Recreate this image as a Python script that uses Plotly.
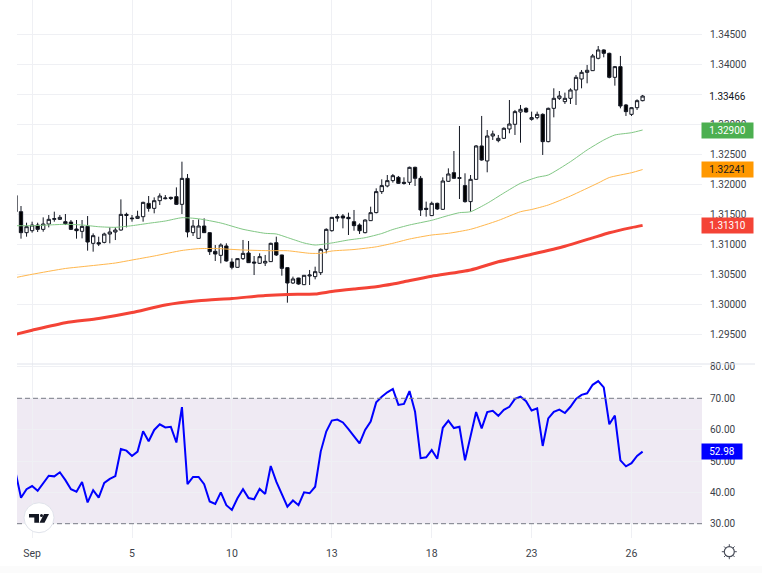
import plotly.graph_objects as go

# Chart size in pixels
W = 762
H = 573

# Candles, bar -1 to bar 112
bars = list(range(-1, 113))
opens = [1.31808, 1.31539, 1.31189, 1.31222, 1.31316, 1.31244, 1.31333, 1.31411, 1.31411, 1.31372,
         1.31366, 1.31250, 1.31211, 1.31294, 1.31011, 1.31022, 1.31027, 1.31166, 1.31200, 1.31233,
         1.31494, 1.31433, 1.31427, 1.31455, 1.31677, 1.31594, 1.31722, 1.31755, 1.31777, 1.31789,
         1.31661, 1.32094, 1.31189, 1.31094, 1.31300, 1.31189, 1.30878, 1.30811, 1.30967, 1.30700,
         1.30611, 1.30756, 1.30850, 1.30700, 1.30678, 1.30683, 1.30706, 1.31022, 1.30817, 1.30606,
         1.30350, 1.30433, 1.30322, 1.30467, 1.30456, 1.30522, 1.30911, 1.31222, 1.31456, 1.31467,
         1.31444, 1.31372, 1.31317, 1.31189, 1.31389, 1.31523, 1.31873, 1.31967, 1.32056, 1.32111,
         1.32028, 1.32028, 1.32278, 1.32095, 1.31595, 1.31473, 1.31678, 1.31578, 1.32045, 1.32189,
         1.32106, 1.31973, 1.31706, 1.32078, 1.32634, 1.32384, 1.32800, 1.32723, 1.32761, 1.32917,
         1.32995, 1.33200, 1.33261, 1.33078, 1.33106, 1.33161, 1.32706, 1.33261, 1.33428, 1.33373,
         1.33428, 1.33567, 1.33750, 1.33861, 1.33889, 1.34095, 1.34234, 1.34178, 1.33778, 1.33956,
         1.33317, 1.33161, 1.33272, 1.33389]
highs = [1.31817, 1.31633, 1.31355, 1.31372, 1.31355, 1.31444, 1.31483, 1.31539, 1.31483, 1.31500,
         1.31400, 1.31400, 1.31400, 1.31466, 1.31177, 1.31122, 1.31189, 1.31277, 1.31277, 1.31744,
         1.31522, 1.31483, 1.31555, 1.31705, 1.31800, 1.31777, 1.31844, 1.31816, 1.31789, 1.31944,
         1.32372, 1.32166, 1.31400, 1.31411, 1.31428, 1.31195, 1.30983, 1.31011, 1.31011, 1.30761,
         1.30761, 1.31067, 1.31050, 1.30800, 1.30844, 1.30817, 1.31022, 1.31122, 1.30822, 1.30610,
         1.30456, 1.30436, 1.30482, 1.30567, 1.30622, 1.30928, 1.31261, 1.31450, 1.31500, 1.31500,
         1.31522, 1.31567, 1.31344, 1.31411, 1.31622, 1.31928, 1.32078, 1.32150, 1.32167, 1.32134,
         1.32111, 1.32289, 1.32289, 1.32134, 1.31706, 1.31706, 1.31689, 1.32111, 1.32261, 1.32550,
         1.32967, 1.32178, 1.32150, 1.32650, 1.33134, 1.32900, 1.32889, 1.32817, 1.32945, 1.33400,
         1.33234, 1.33317, 1.33278, 1.33206, 1.33206, 1.33178, 1.33273, 1.33595, 1.33550, 1.33523,
         1.33595, 1.33817, 1.33900, 1.33984, 1.34167, 1.34300, 1.34245, 1.34189, 1.33967, 1.34134,
         1.33334, 1.33278, 1.33411, 1.33484]
lows = [1.31517, 1.31089, 1.31122, 1.31189, 1.31200, 1.31205, 1.31277, 1.31372, 1.31400, 1.31316,
        1.31233, 1.31089, 1.31094, 1.30889, 1.30872, 1.30966, 1.31011, 1.31011, 1.31066, 1.31222,
        1.31277, 1.31372, 1.31420, 1.31372, 1.31539, 1.31511, 1.31650, 1.31744, 1.31733, 1.31650,
        1.31500, 1.31111, 1.31133, 1.31089, 1.31185, 1.30817, 1.30717, 1.30678, 1.30706, 1.30578,
        1.30606, 1.30733, 1.30685, 1.30483, 1.30667, 1.30633, 1.30700, 1.30800, 1.30472, 1.30022,
        1.30333, 1.30322, 1.30317, 1.30317, 1.30411, 1.30483, 1.30844, 1.31206, 1.31372, 1.31261,
        1.31150, 1.31222, 1.31167, 1.31178, 1.31385, 1.31511, 1.31834, 1.31945, 1.32023, 1.32000,
        1.31989, 1.31984, 1.31967, 1.31467, 1.31456, 1.31467, 1.31567, 1.31567, 1.32034, 1.32089,
        1.31750, 1.31689, 1.31539, 1.32067, 1.32389, 1.32195, 1.32734, 1.32695, 1.32750, 1.32845,
        1.32817, 1.32689, 1.33189, 1.33056, 1.33078, 1.32484, 1.32695, 1.33111, 1.33400, 1.33334,
        1.33334, 1.33317, 1.33595, 1.33678, 1.33885, 1.34078, 1.34111, 1.33761, 1.33639, 1.33261,
        1.33134, 1.33134, 1.33234, 1.33378]
closes = [1.31538, 1.31189, 1.31289, 1.31316, 1.31244, 1.31333, 1.31411, 1.31422, 1.31444, 1.31339,
          1.31244, 1.31222, 1.31294, 1.31033, 1.31139, 1.31000, 1.31166, 1.31200, 1.31233, 1.31494,
          1.31477, 1.31422, 1.31461, 1.31694, 1.31594, 1.31722, 1.31800, 1.31766, 1.31761, 1.31661,
          1.32094, 1.31200, 1.31300, 1.31300, 1.31189, 1.30872, 1.30833, 1.30983, 1.30717, 1.30611,
          1.30756, 1.30844, 1.30689, 1.30683, 1.30789, 1.30711, 1.31011, 1.30817, 1.30594, 1.30350,
          1.30417, 1.30333, 1.30478, 1.30483, 1.30539, 1.30911, 1.31244, 1.31444, 1.31433, 1.31433,
          1.31422, 1.31306, 1.31222, 1.31400, 1.31522, 1.31873, 1.31973, 1.32056, 1.32139, 1.32011,
          1.32011, 1.32278, 1.32095, 1.31567, 1.31578, 1.31678, 1.31584, 1.32050, 1.32167, 1.32095,
          1.32095, 1.31706, 1.32078, 1.32634, 1.32400, 1.32800, 1.32834, 1.32761, 1.32928, 1.33000,
          1.33206, 1.33245, 1.33200, 1.33106, 1.33161, 1.32706, 1.33261, 1.33428, 1.33467, 1.33428,
          1.33567, 1.33778, 1.33861, 1.33895, 1.34134, 1.34234, 1.34178, 1.33778, 1.33956, 1.33300,
          1.33206, 1.33272, 1.33389, 1.33466]

# Moving averages, read at a few bars each
ma_fast_bars = [-1, 2, 5, 8, 11, 14, 17, 20, 23, 26, 29, 32, 36, 40, 44, 46, 48, 51, 53, 56, 59, 62,
                65, 67, 70, 74, 77, 79, 81, 84, 87, 90, 93, 95, 99, 102, 105, 107, 110, 112]
ma_fast = [1.31305, 1.31305, 1.31317, 1.31328, 1.31317, 1.31288, 1.31278, 1.31305, 1.31345, 1.31383,
           1.31438, 1.31420, 1.31350, 1.31245, 1.31178, 1.31167, 1.31108, 1.31017, 1.30983, 1.31017,
           1.31067, 1.31105, 1.31175, 1.31242, 1.31317, 1.31395, 1.31475, 1.31522, 1.31538, 1.31678,
           1.31850, 1.32012, 1.32112, 1.32150, 1.32372, 1.32567, 1.32733, 1.32817, 1.32855, 1.32900]
ma_mid_bars = [-1, 2, 8, 11, 17, 20, 24, 29, 32, 35, 40, 45, 48, 52, 54, 56, 60, 64, 67, 70, 74, 77,
               81, 86, 90, 92, 95, 99, 104, 106, 110, 112]
ma_mid = [1.30440, 1.30495, 1.30592, 1.30622, 1.30683, 1.30733, 1.30800, 1.30892, 1.30922, 1.30925,
          1.30900, 1.30888, 1.30888, 1.30845, 1.30845, 1.30883, 1.30908, 1.30953, 1.31012, 1.31083,
          1.31150, 1.31178, 1.31245, 1.31392, 1.31538, 1.31575, 1.31650, 1.31800, 1.32017, 1.32108,
          1.32188, 1.32241]
ma_slow_bars = [-1, 2, 8, 14, 20, 26, 32, 38, 44, 48, 53, 56, 60, 64, 67, 69, 74, 81, 86, 92, 98,
                103, 106, 110, 112]
ma_slow = [1.29495, 1.29562, 1.29688, 1.29758, 1.29858, 1.29983, 1.30053, 1.30092, 1.30142, 1.30160,
           1.30167, 1.30208, 1.30250, 1.30288, 1.30333, 1.30370, 1.30463, 1.30567, 1.30703, 1.30828,
           1.30962, 1.31103, 1.31187, 1.31273, 1.31310]

rsi = [46.6, 38.3, 41.0, 42.0, 40.5, 43.1, 45.3, 45.1, 46.4, 43.9,
       41.0, 40.2, 43.3, 36.8, 40.7, 38.3, 43.0, 44.3, 45.2, 53.8,
       53.3, 51.6, 53.0, 59.5, 56.3, 59.9, 61.7, 60.7, 60.9, 55.9,
       67.2, 42.6, 44.9, 44.9, 42.6, 37.1, 36.3, 40.0, 35.9, 34.4,
       38.1, 41.0, 38.2, 37.8, 41.1, 39.5, 48.4, 43.4, 39.1, 35.4,
       37.4, 35.9, 40.0, 39.7, 41.8, 53.0, 59.4, 62.9, 63.2, 62.3,
       60.2, 58.0, 55.6, 59.9, 62.6, 68.7, 70.5, 71.9, 73.0, 67.9,
       68.2, 72.3, 65.7, 50.9, 51.2, 53.5, 50.7, 60.6, 62.9, 60.5,
       60.9, 50.2, 57.8, 65.6, 60.4, 65.6, 66.0, 64.4, 66.3, 67.3,
       69.8, 70.5, 69.1, 66.1, 66.8, 54.8, 63.6, 65.7, 66.4, 65.3,
       67.3, 69.8, 71.1, 71.6, 74.3, 75.5, 73.5, 61.7, 64.5, 50.2,
       48.3, 49.3, 51.6, 52.98]

# Axis ticks
date_bars = [2, 20, 38, 56, 74, 92, 110]
date_labels = ["Sep", "5", "10", "13", "18", "23", "26"]
price_ticks = [1.295, 1.30, 1.305, 1.31, 1.315, 1.32, 1.325, 1.33, 1.335, 1.34, 1.345]
price_labels = ["1.29500", "1.30000", "1.30500", "1.31000", "1.31500", "1.32000", "1.32500",
                "1.33000", "", "1.34000", "1.34500"]
rsi_ticks = [30, 40, 50, 60, 70, 80]
rsi_labels = ["30.00", "40.00", "50.00", "60.00", "70.00", "80.00"]


def px_x(x):
    return x / W


def px_y(y):
    return 1 - y / H


def main():
    fig = go.Figure()

    # Candles
    fig.add_trace(go.Candlestick(
        x=bars, open=opens, high=highs, low=lows, close=closes,
        xaxis="x", yaxis="y", whiskerwidth=0, showlegend=False, hoverinfo="skip",
        increasing=dict(line=dict(color="#131722", width=1), fillcolor="#ffffff"),
        decreasing=dict(line=dict(color="#131722", width=1), fillcolor="#000000"),
    ))

    # Moving averages
    for xs, ys, color, width in [(ma_fast_bars, ma_fast, "#81c784", 1),
                                 (ma_mid_bars, ma_mid, "#ffb74d", 1),
                                 (ma_slow_bars, ma_slow, "#f44336", 3)]:
        fig.add_trace(go.Scatter(x=xs, y=ys, mode="lines", xaxis="x", yaxis="y", showlegend=False,
                                 hoverinfo="skip",
                                 line=dict(color=color, width=width, shape="spline", smoothing=0.6)))

    # RSI
    fig.add_trace(go.Scatter(x=bars, y=rsi, mode="lines", xaxis="x2", yaxis="y2", showlegend=False,
                             hoverinfo="skip", line=dict(color="#0000ff", width=2)))

    grid = "#eff0f4"
    tick_font = dict(family="Roboto", size=10, color="#3c3f4a")
    date_font = dict(family="Roboto", size=10.5, color="#3c3f4a")
    x_range = [-0.72, 122.7]
    common_x = dict(range=x_range, tickmode="array", tickvals=date_bars, gridcolor=grid, gridwidth=1,
                    zeroline=False, showline=False, fixedrange=True, automargin=False)
    common_y = dict(side="right", anchor="free", position=702 / W, gridcolor=grid, gridwidth=1,
                    zeroline=False, showline=False, ticks="outside", ticklen=5, automargin=False,
                    tickcolor="rgba(0,0,0,0)", tickfont=tick_font, fixedrange=True)

    fig.update_layout(
        width=W, height=H, autosize=False,
        margin=dict(l=0, r=0, t=0, b=0),
        paper_bgcolor="#ffffff", plot_bgcolor="#ffffff",
        font=tick_font,
        boxgap=0.15,
        xaxis=dict(domain=[17 / W, 702 / W], anchor="y", showticklabels=False,
                   rangeslider=dict(visible=False), **common_x),
        yaxis=dict(domain=[px_y(364), 1], range=[1.29, 1.350667], tickmode="array",
                   tickvals=price_ticks, ticktext=price_labels, **common_y),
        xaxis2=dict(domain=[17 / W, 702 / W], anchor="y2", ticktext=date_labels, ticks="outside",
                    ticklen=5, tickcolor="rgba(0,0,0,0)", tickfont=date_font, **common_x),
        yaxis2=dict(domain=[px_y(538), px_y(364)], range=[25.44, 80.94], tickmode="array",
                    tickvals=rsi_ticks, ticktext=rsi_labels, **common_y),
    )

    # RSI band and its dashed limits
    fig.add_shape(type="rect", xref="x2 domain", yref="y2", x0=0, x1=1, y0=30, y1=70,
                  fillcolor="rgba(120,80,160,0.12)", line_width=0, layer="below")
    for level in (30, 70):
        fig.add_shape(type="line", xref="x2 domain", yref="y2", x0=0, x1=1, y0=level, y1=level,
                      line=dict(color="#787b86", width=1, dash="5px,3px"), layer="above")

    # Pane separator and bottom strip
    fig.add_shape(type="line", xref="paper", yref="paper", x0=px_x(17), x1=px_x(755),
                  y0=px_y(364), y1=px_y(364), line=dict(color="#e0e3eb", width=1))
    fig.add_shape(type="rect", xref="paper", yref="paper", x0=0, x1=1, y0=0, y1=px_y(566),
                  fillcolor="#fbfbfb", line_width=0, layer="below")

    # Last value labels
    for value, yref, text, bg, color, width, center in [
        (1.33466, "y", "1.33466", None, "#131722", 51, 727.5),
        (1.32900, "y", "1.32900", "#4caf50", "#ffffff", 51, 727.5),
        (1.32241, "y", "1.32241", "#ff9800", "#131722", 51, 727.5),
        (1.31310, "y", "1.31310", "#f44336", "#ffffff", 51, 727.5),
        (52.98, "y2", "52.98", "#0000ff", "#ffffff", 40, 722),
    ]:
        fig.add_annotation(x=px_x(center), xref="paper", xanchor="center", y=value, yref=yref,
                           yanchor="middle", text=text, showarrow=False,
                           bgcolor=bg, width=width, height=15, borderpad=0, align="center",
                           font=dict(family="Roboto", size=10, color=color))

    # TradingView mark
    fig.add_shape(type="circle", xref="paper", yref="paper", x0=px_x(24), x1=px_x(54),
                  y0=px_y(532.7), y1=px_y(502.7), fillcolor="#ffffff",
                  line=dict(color="#e0e3eb", width=1), layer="above")
    tv_bar = [(29, 514), (39, 514), (39, 522.7), (34.3, 522.7), (34.3, 517.4), (29, 517.4)]
    tv_slash = [(44, 514), (49, 514), (44.5, 522.7), (39.5, 522.7)]
    for part in (tv_bar, tv_slash):
        path = "M " + " L ".join(f"{px_x(x):.5f} {px_y(y):.5f}" for x, y in part) + " Z"
        fig.add_shape(type="path", xref="paper", yref="paper", path=path, fillcolor="#131722",
                      line_width=0, layer="above")
    fig.add_shape(type="circle", xref="paper", yref="paper", x0=px_x(40), x1=px_x(43),
                  y0=px_y(517), y1=px_y(514), fillcolor="#131722", line_width=0, layer="above")

    # Sun icon
    sun_x, sun_y = 729.3, 551.7
    fig.add_shape(type="circle", xref="paper", yref="paper", x0=px_x(sun_x - 5), x1=px_x(sun_x + 5),
                  y0=px_y(sun_y + 5), y1=px_y(sun_y - 5), line=dict(color="#4a4e5a", width=1.2))
    for dx, dy in [(0, -1), (0, 1), (-1, 0), (1, 0), (-0.7, -0.7), (0.7, -0.7), (-0.7, 0.7), (0.7, 0.7)]:
        fig.add_shape(type="line", xref="paper", yref="paper",
                      x0=px_x(sun_x + 5 * dx), x1=px_x(sun_x + 7.5 * dx),
                      y0=px_y(sun_y + 5 * dy), y1=px_y(sun_y + 7.5 * dy),
                      line=dict(color="#4a4e5a", width=1))

    # The page's default body margin would push the chart away from the corner
    fig.write_html("out.html", config=dict(displayModeBar=False),
                   post_script="document.body.style.margin='0';")


main()
